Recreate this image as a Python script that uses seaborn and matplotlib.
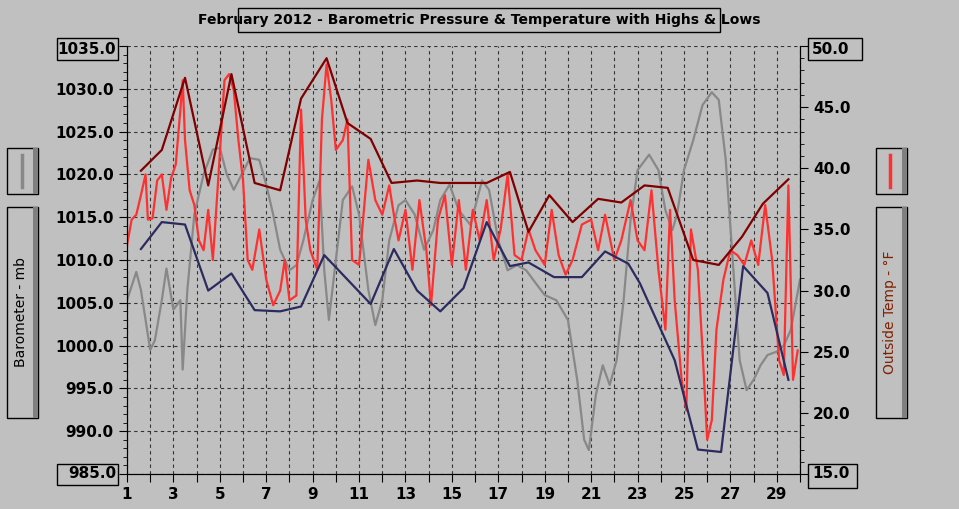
import numpy as np
import pandas as pd
import seaborn as sns
import matplotlib
matplotlib.use('Agg')
import matplotlib.pyplot as plt
from matplotlib.patches import Rectangle

# pressure (mb)
press_day = [1.0, 1.4, 1.6, 2.0, 2.2, 2.5, 2.7, 3.0, 3.3, 3.4, 3.6, 3.9, 4.3, 4.7, 5.0, 5.3, 5.6, 6.0, 6.3, 6.7,
             7.0, 7.3, 7.6, 8.0, 8.3, 8.6, 9.0, 9.3, 9.5, 9.7, 10.0, 10.3, 10.7, 11.0, 11.4, 11.7, 12.0, 12.3, 12.7,
             13.0, 13.4, 13.8, 14.2, 14.5, 14.9, 15.3, 15.8, 16.3, 16.6, 17.0, 17.4, 17.8, 18.2, 18.5, 19.0, 19.5,
             20.0, 20.4, 20.7, 20.9, 21.2, 21.5, 21.8, 22.1, 22.4, 22.7, 23.0, 23.5, 23.9, 24.2, 24.5, 24.7, 25.0,
             25.4, 25.8, 26.2, 26.5, 26.8, 27.1, 27.4, 27.7, 28.0, 28.3, 28.6, 29.0, 29.3, 29.6, 30.0]
press_mb = [1005.3, 1008.6, 1006.5, 999.5, 1000.6, 1005.3, 1009.0, 1004.2, 1005.3, 997.2, 1006.5, 1015.3, 1020.0,
            1022.9, 1023.1, 1020.0, 1018.2, 1020.3, 1021.9, 1021.7, 1018.8, 1015.3, 1011.2, 1008.8, 1009.4, 1012.3,
            1017.0, 1019.3, 1008.8, 1003.0, 1010.0, 1017.0, 1018.6, 1015.3, 1006.5, 1002.4, 1005.3, 1012.3, 1016.4,
            1017.0, 1015.3, 1011.2, 1013.5, 1017.0, 1018.8, 1015.8, 1014.1, 1019.3, 1018.2, 1012.3, 1008.8, 1009.4,
            1008.8, 1007.7, 1005.9, 1005.3, 1003.0, 996.0, 989.0, 987.8, 994.2, 997.7, 995.4, 998.3, 1005.3, 1014.7,
            1020.5, 1022.3, 1020.5, 1015.8, 1013.5, 1015.3, 1020.5, 1024.0, 1028.1, 1029.6, 1028.7, 1021.7, 1010.0,
            998.3, 994.8, 996.0, 997.7, 998.9, 999.3, 1000.0, 1001.8, 1007.7]

# outside temperature (F)
temp_day = [1.0, 1.2, 1.4, 1.6, 1.8, 1.9, 2.1, 2.3, 2.5, 2.7, 2.9, 3.1, 3.3, 3.4, 3.5, 3.7, 3.9, 4.1, 4.3, 4.5,
            4.7, 4.9, 5.2, 5.4, 5.6, 5.8, 6.0, 6.2, 6.4, 6.7, 7.0, 7.3, 7.6, 7.8, 8.0, 8.3, 8.5, 8.7, 8.9, 9.2, 9.4,
            9.6, 9.8, 10.0, 10.3, 10.5, 10.7, 11.0, 11.4, 11.7, 12.0, 12.3, 12.5, 12.7, 13.0, 13.3, 13.6, 13.9, 14.1,
            14.4, 14.7, 15.0, 15.3, 15.6, 15.9, 16.2, 16.5, 16.8, 17.1, 17.4, 17.7, 18.0, 18.3, 18.6, 19.0, 19.3,
            19.6, 19.9, 20.2, 20.6, 21.0, 21.3, 21.6, 22.0, 22.3, 22.7, 23.0, 23.3, 23.6, 23.9, 24.2, 24.4, 24.6,
            24.9, 25.1, 25.3, 25.6, 25.8, 26.0, 26.2, 26.4, 26.7, 27.0, 27.3, 27.6, 27.9, 28.2, 28.5, 28.8, 29.1,
            29.3, 29.5, 29.7, 29.9]
temp_f = [33.7, 35.8, 36.2, 37.8, 39.5, 35.8, 35.9, 39.0, 39.5, 36.6, 39.2, 40.3, 44.8, 47.2, 42.3, 38.2, 37.0,
          34.1, 33.3, 36.6, 32.5, 38.2, 47.2, 47.7, 46.4, 42.3, 39.0, 32.5, 31.7, 35.0, 30.9, 28.8, 30.0, 32.5,
          29.2, 29.6, 44.8, 35.8, 33.3, 31.7, 44.0, 48.5, 45.6, 41.5, 42.3, 44.0, 32.5, 32.1, 40.7, 37.4, 36.2,
          38.6, 36.2, 34.1, 36.6, 31.7, 37.4, 33.3, 28.8, 35.8, 37.8, 32.1, 37.4, 31.7, 36.6, 34.1, 37.4, 32.5,
          35.0, 39.5, 32.9, 32.5, 35.0, 33.3, 32.1, 36.6, 32.9, 31.3, 32.5, 35.4, 35.8, 33.3, 36.2, 32.5, 34.1,
          37.4, 34.1, 33.3, 38.2, 31.7, 26.8, 36.6, 29.2, 22.7, 20.2, 35.0, 31.7, 25.1, 17.8, 19.4, 26.8, 30.9,
          33.3, 32.9, 32.1, 34.1, 32.1, 37.0, 32.5, 24.3, 23.1, 38.6, 22.7, 25.1]

# daily highs / lows
hi_day = [1.6, 2.5, 3.5, 4.5, 5.5, 6.5, 7.6, 8.5, 9.6, 10.5, 11.5, 12.4, 13.5, 14.5, 16.5, 17.5, 18.3, 19.2,
          20.2, 21.3, 22.3, 23.3, 24.3, 25.4, 26.5, 27.5, 28.4, 29.5]
hi_f = [39.8, 41.5, 47.4, 38.6, 47.7, 38.8, 38.2, 45.7, 49.0, 43.7, 42.4, 38.8, 39.0, 38.8, 38.8, 39.7, 34.8,
        37.8, 35.6, 37.5, 37.2, 38.6, 38.4, 32.5, 32.1, 34.4, 37.1, 39.1]
lo_day = [1.6, 2.5, 3.5, 4.5, 5.5, 6.5, 7.6, 8.5, 9.5, 10.5, 11.5, 12.5, 13.5, 14.5, 15.5, 16.5, 17.5, 18.3,
          19.4, 20.6, 21.6, 22.6, 23.1, 24.6, 25.6, 26.6, 27.55, 28.6, 29.5]
lo_f = [33.4, 35.6, 35.4, 30.0, 31.4, 28.4, 28.3, 28.7, 32.9, 30.9, 28.9, 33.4, 30.0, 28.3, 30.2, 35.6, 32.0,
        32.3, 31.1, 31.1, 33.2, 32.2, 30.6, 24.3, 17.0, 16.8, 32.0, 29.8, 22.7]

BG = '#C0C0C0'
W, H = 959, 509
fig = plt.figure(figsize=(9.59, 5.09), dpi=100, facecolor=BG)


def box(x0, y0, x1, y1, shadow=False, fc=BG):
  # pixel coords, top-left origin
  fig.patches.append(Rectangle((x0 / W, 1 - y1 / H), (x1 - x0) / W, (y1 - y0) / H,
                               transform=fig.transFigure, fc=fc, ec='black', lw=1))
  if shadow:
    fig.patches.append(Rectangle(((x1 - 5) / W, 1 - y1 / H), 5 / W, (y1 - y0) / H,
                                 transform=fig.transFigure, fc='#808080', ec='none'))


ax = fig.add_axes([127 / W, 1 - 474 / H, 673 / W, 428 / H])
ax.set_facecolor(BG)
ax2 = ax.twinx()

sns.lineplot(x=press_day, y=press_mb, ax=ax, color='#888888', lw=1.6, sort=False, estimator=None)
sns.lineplot(x=temp_day, y=temp_f, ax=ax2, color='#FF3030', lw=1.6, sort=False, estimator=None)
sns.lineplot(x=hi_day, y=hi_f, ax=ax2, color='#800000', lw=1.6, sort=False, estimator=None)
sns.lineplot(x=lo_day, y=lo_f, ax=ax2, color='#2B2B60', lw=1.6, sort=False, estimator=None)

ax.set_xlim(1, 30)
ax.set_ylim(985, 1035)
ax2.set_ylim(15, 50)
ax.set_xticks(range(1, 31))
ax.set_xticklabels([str(d) if d % 2 else '' for d in range(1, 31)], fontsize=11, fontweight='bold')
ax.set_yticks(np.arange(985, 1036, 5))
ax.set_yticklabels([''] + [f'{v:.1f}' for v in range(990, 1031, 5)] + [''], fontsize=11, fontweight='bold')
ax.set_yticks(np.arange(985, 1036, 1), minor=True)
ax2.set_yticks(np.arange(15, 51, 5))
ax2.set_yticklabels([''] + [f'{v:.1f}' for v in range(20, 46, 5)] + [''], fontsize=11, fontweight='bold')
ax2.set_yticks(np.arange(15, 51, 1), minor=True)
ax.grid(True, which='major', color='#333333', ls=(0, (3, 3)), lw=0.8)
for a in (ax, ax2):
  a.set_xlabel('')
  a.set_ylabel('')
  a.spines['top'].set_visible(False)
  a.tick_params(which='both', direction='out', color='black', length=6)
  a.tick_params(which='minor', length=3)

# end labels in boxes
box(57, 38, 118, 60)
fig.text(116 / W, 1 - 49 / H, '1035.0', ha='right', va='center', fontsize=11, fontweight='bold')
box(57, 464, 118, 485)
fig.text(116 / W, 1 - 474 / H, '985.0', ha='right', va='center', fontsize=11, fontweight='bold')
box(808, 38, 862, 60)
fig.text(812 / W, 1 - 49 / H, '50.0', ha='left', va='center', fontsize=11, fontweight='bold')
box(808, 464, 857, 488)
fig.text(812 / W, 1 - 474 / H, '15.0', ha='left', va='center', fontsize=11, fontweight='bold')

# title
box(238, 8, 720, 32)
fig.text(479 / W, 1 - 20 / H, 'February 2012 - Barometric Pressure & Temperature with Highs & Lows',
         ha='center', va='center', fontsize=10, fontweight='bold')

# side legends
box(7, 148, 38, 194, shadow=True)
fig.lines.append(plt.Line2D([22 / W, 22 / W], [1 - 155 / H, 1 - 187 / H], transform=fig.transFigure,
                            color='#888888', lw=2.5))
box(7, 207, 38, 418, shadow=True)
fig.text(21 / W, 1 - 312 / H, 'Barometer - mb', rotation=90, ha='center', va='center', fontsize=10)
box(876, 148, 907, 194, shadow=True)
fig.lines.append(plt.Line2D([890 / W, 890 / W], [1 - 155 / H, 1 - 187 / H], transform=fig.transFigure,
                            color='#FF3030', lw=2.5))
box(876, 207, 907, 418, shadow=True)
fig.text(890 / W, 1 - 312 / H, 'Outside Temp - \u00b0F', rotation=90, ha='center', va='center',
         fontsize=10, color='#802000')

fig.savefig('out.png', dpi=100, facecolor=BG)
